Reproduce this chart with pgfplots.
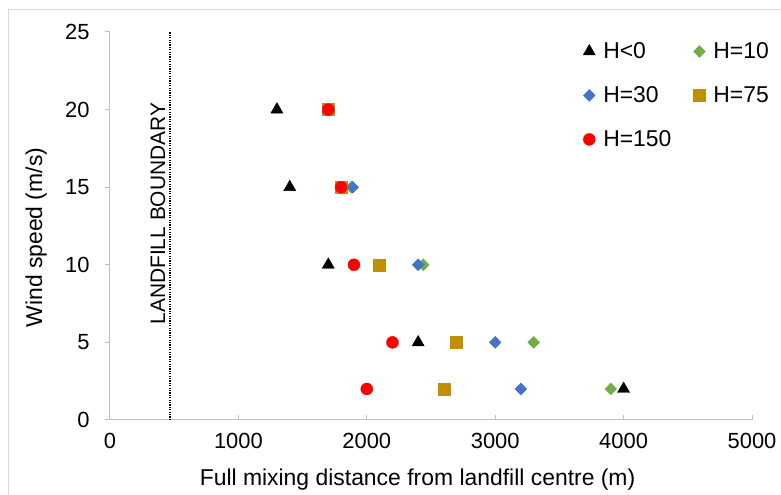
\documentclass[border=0pt]{standalone}
\usepackage{fontspec}
\setmainfont{Liberation Sans}
\usepackage{pgfplots}
\pgfplotsset{compat=1.18}
\definecolor{cgreen}{RGB}{112,173,71}
\definecolor{cblue}{RGB}{68,114,196}
\definecolor{cgold}{RGB}{191,144,0}
\definecolor{cred}{RGB}{255,0,0}
\definecolor{axgray}{RGB}{191,191,191}
\definecolor{framegray}{RGB}{217,217,217}
\begin{document}
\begin{tikzpicture}[x=1bp,y=1bp]
\useasboundingbox (-110,-75) rectangle (671,420);
\draw[framegray, line width=1bp] (-101.5,-80) -- (-101.5,410.5) -- (680,410.5);
\begin{axis}[
  at={(0,0)}, anchor=south west,
  scale only axis, width=642bp, height=388bp,
  xmin=0, xmax=5000, ymin=0, ymax=25,
  axis x line=bottom, axis y line=left,
  axis line style={axgray, line width=1bp, -},
  xtick={0,1000,...,5000}, ytick={0,5,...,25},
  tick style={axgray, line width=1bp},
  xtick align=inside, ytick align=outside,
  major tick length=5bp,
  scaled x ticks=false,
  xticklabel style={/pgf/number format/1000 sep={}, yshift=-10bp},
  yticklabel style={xshift=-12bp},
  /pgf/number format/assume math mode=true,
  tick label style={font=\fontsize{22}{26}\selectfont, black},
  xlabel={Full mixing distance from landfill centre (m)},
  ylabel={Wind speed (m/s)},
  label style={font=\fontsize{23}{27}\selectfont},
  xlabel style={at={(axis description cs:0.479,-0.1546)}, anchor=center},
  ylabel style={at={(axis description cs:-0.115,0.47)}, anchor=center},
  legend columns=2,
  legend cell align=left,
  legend image code/.code={\path[draw=none,fill=none] (0bp,-0.1bp) rectangle (18bp,0.1bp); \draw[#1] plot coordinates {(6bp,0bp)};},
  legend style={at={(rel axis cs:0.7368,0.978)}, anchor=north west, draw=none, fill=none,
    font=\fontsize{23}{27}\selectfont, inner sep=0pt, row sep=22.5bp,
    /tikz/every even column/.append style={column sep=20bp}},
]
\addplot[black, line width=1.3bp, dash pattern=on 1.2bp off 1.2bp, forget plot] coordinates {(467,0) (467,25)};
\node[rotate=90, font=\fontsize{21}{24}\selectfont] at (axis cs:374,13.3) {LANDFILL BOUNDARY};

\addplot[only marks, mark=triangle*, mark size=7bp, color=black, mark options={fill=black, draw=black}]
  coordinates {(1300,20) (1400,15) (1700,10) (2400,5) (4000,2)};
\addlegendentry{H<0}
\addplot[only marks, mark=diamond*, mark size=6bp, color=cgreen, mark options={fill=cgreen, draw=cgreen, xscale=1.3}]
  coordinates {(1700,20) (1880,15) (2440,10) (3300,5) (3900,2)};
\addlegendentry{H=10}
\addplot[only marks, mark=diamond*, mark size=6bp, color=cblue, mark options={fill=cblue, draw=cblue, xscale=1.3}]
  coordinates {(1700,20) (1890,15) (2400,10) (3000,5) (3200,2)};
\addlegendentry{H=30}
\addplot[only marks, mark=square*, mark size=6bp, color=cgold, mark options={fill=cgold, draw=cgold}]
  coordinates {(1700,20) (1800,15) (2100,10) (2700,5) (2600,2)};
\addlegendentry{H=75}
\addplot[only marks, mark=*, mark size=6bp, color=cred, mark options={fill=cred, draw=cred}]
  coordinates {(1700,20) (1800,15) (1900,10) (2200,5) (2000,2)};
\addlegendentry{H=150}
\end{axis}
\end{tikzpicture}
\end{document}
